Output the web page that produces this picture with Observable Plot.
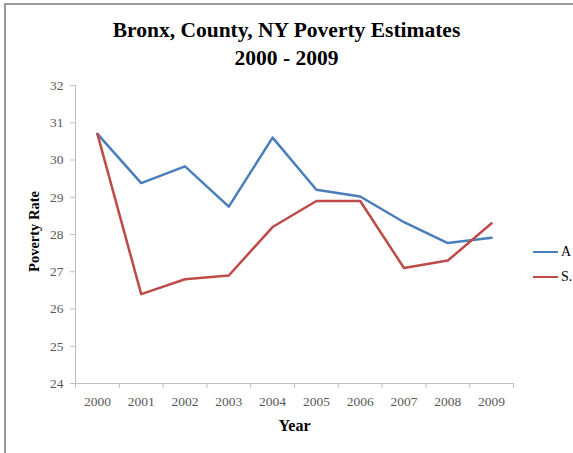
<!DOCTYPE html>
<html>
<head>
<meta charset="utf-8">
<script src="https://cdn.jsdelivr.net/npm/d3@7"></script>
<script src="https://cdn.jsdelivr.net/npm/@observablehq/plot@0.6"></script>
<style>
  html, body { margin: 0; padding: 0; background: #fff; }
  #page { position: relative; width: 573px; height: 453px; overflow: hidden; background: #fff; font-family: "Liberation Serif", "Times New Roman", serif; }
  #frame { position: absolute; left: 4px; top: 3px; width: 600px; height: 500px; border-top: 2px solid #9a9a9a; border-left: 2px solid #9a9a9a; box-sizing: border-box; }
  #title { position: absolute; left: 0; top: 16px; width: 573px; text-align: center; font-weight: bold; font-size: 21.5px; line-height: 28px; color: #000; }
  #chart { position: absolute; left: 0; top: 70px; }
  #legend { position: absolute; left: 533px; top: 239px; font-size: 14px; color: #000; white-space: nowrap; }
  .item { display: flex; align-items: center; height: 25px; }
  .swatch { width: 25px; height: 0; border-top: 2.5px solid; margin-right: 3px; }
</style>
</head>
<body>
<div id="page">
  <div id="frame"></div>
  <div id="title">Bronx, County, NY Poverty Estimates<br>2000 - 2009</div>
  <div id="chart"></div>
  <div id="legend"></div>
</div>
<script>
const years = [2000, 2001, 2002, 2003, 2004, 2005, 2006, 2007, 2008, 2009];
const seriesA = [30.7, 29.38, 29.83, 28.75, 30.6, 29.2, 29.02, 28.33, 27.77, 27.91];
const seriesS = [30.7, 26.4, 26.8, 26.9, 28.2, 28.9, 28.9, 27.1, 27.3, 28.3];
const seriesNames = ["A", "S."];
const seriesColors = ["#4a7ebb", "#be4b48"];
const yTicks = [24, 25, 26, 27, 28, 29, 30, 31, 32];
const yLabel = "Poverty Rate";
const xLabel = "Year";

const data = [
  ...years.map((y, i) => ({year: y, value: seriesA[i], series: seriesNames[0]})),
  ...years.map((y, i) => ({year: y, value: seriesS[i], series: seriesNames[1]}))
];
const boundaries = [years[0] - 0.5, ...years.map(y => y + 0.5)];

const chart = Plot.plot({
  width: 573,
  height: 383,
  marginLeft: 75,
  marginRight: 60,
  marginTop: 15,
  marginBottom: 70,
  style: {fontFamily: "'Liberation Serif', 'Times New Roman', serif", fontSize: "13.5px", color: "#595959", background: "transparent", overflow: "visible"},
  x: {domain: [years[0] - 0.5, years[years.length - 1] + 0.5], axis: null},
  y: {domain: [yTicks[0], yTicks[yTicks.length - 1]], axis: null},
  color: {domain: seriesNames, range: seriesColors},
  marks: [
    Plot.ruleY([yTicks[0]], {stroke: "#bfbfbf", strokeWidth: 1}),
    Plot.ruleX([years[0] - 0.5], {stroke: "#bfbfbf", strokeWidth: 1}),
    Plot.axisY({ticks: yTicks, tickSize: 5, tickPadding: 7, tickFormat: "d", stroke: "#bfbfbf", fill: "#595959", label: null}),
    Plot.axisX({ticks: boundaries, tickSize: 5, tickFormat: () => "", stroke: "#bfbfbf", label: null}),
    Plot.axisX({ticks: years, tickSize: 0, tickPadding: 13, tickFormat: "d", fill: "#595959", label: null}),
    Plot.lineY(data, {x: "year", y: "value", z: "series", stroke: "series", strokeWidth: 2.5}),
    Plot.text([yLabel], {frameAnchor: "left", textAnchor: "middle", dx: -41, dy: -3, rotate: -90, fontWeight: "bold", fontSize: 14.5, fill: "#000"}),
    Plot.text([xLabel], {frameAnchor: "bottom", dy: 47, fontWeight: "bold", fontSize: 16, fill: "#000"})
  ]
});
document.getElementById("chart").appendChild(chart);

const legend = document.getElementById("legend");
seriesNames.forEach((name, i) => {
  const item = document.createElement("div");
  item.className = "item";
  const sw = document.createElement("span");
  sw.className = "swatch";
  sw.style.borderColor = seriesColors[i];
  const label = document.createElement("span");
  label.textContent = name;
  item.appendChild(sw);
  item.appendChild(label);
  legend.appendChild(item);
});
</script>
</body>
</html>
